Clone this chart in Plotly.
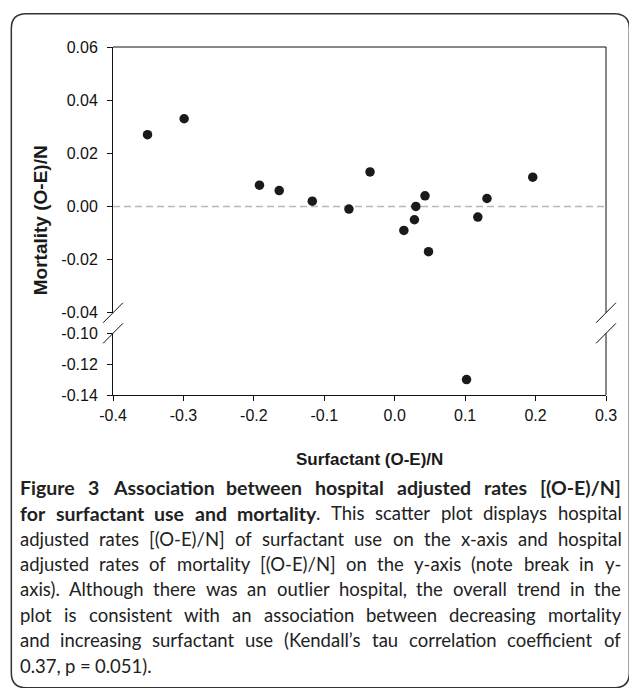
import glob
import struct
import plotly.graph_objects as go

# ---- data ----
surfactant = [-0.351, -0.299, -0.192, -0.164, -0.117, -0.065, -0.035, 0.013,
              0.028, 0.030, 0.043, 0.048, 0.102, 0.118, 0.131, 0.196]
mortality = [0.027, 0.033, 0.008, 0.006, 0.002, -0.001, 0.013, -0.009,
             -0.005, 0.000, 0.004, -0.017, -0.130, -0.004, 0.003, 0.011]

x_ticks = [-0.4, -0.3, -0.2, -0.1, 0.0, 0.1, 0.2, 0.3]
x_ticktext = ["-0.4", "-0.3", "-0.2", "-0.1", "0.0", "0.1", "0.2", "0.3"]
y_upper_ticks = [-0.04, -0.02, 0.00, 0.02, 0.04, 0.06]
y_upper_text = ["-0.04", "-0.02", "0.00", "0.02", "0.04", "0.06"]
y_lower_ticks = [-0.14, -0.12, -0.10]
y_lower_text = ["-0.14", "-0.12", "-0.10"]
x_range = [-0.4, 0.3]
y_upper_range = [-0.04, 0.06]
y_lower_range = [-0.14, -0.10]
reference_y = 0.0

x_title = "<b>Surfactant (O-E)/N</b>"
y_title = "<b>Mortality (O-E)/N</b>"
caption_lines = [
    "<b>Figure 3 Association between hospital adjusted rates [(O-E)/N]</b>",
    "<b>for surfactant use and mortality</b>. This scatter plot displays hospital",
    "adjusted rates [(O-E)/N] of surfactant use on the x-axis and hospital",
    "adjusted rates of mortality [(O-E)/N] on the y-axis (note break in y-",
    "axis). Although there was an outlier hospital, the overall trend in the",
    "plot is consistent with an association between decreasing mortality",
    "and increasing surfactant use (Kendall\u2019s tau correlation coefficient of",
    "0.37, p = 0.051).",
]

# ---- layout geometry (pixels; page body margin removed below) ----
W, H = 629, 688
plot_left, plot_right, plot_top, plot_bottom = 112.5, 609.5, 46.7, 395.0
L = plot_left
R = W - plot_right
T = plot_top
B = H - plot_bottom
PW = W - L - R
PH = H - T - B
upper_bottom = 312.7
lower_top = 333.3
d_lower = (plot_bottom - lower_top) / PH
d_upper = (plot_bottom - upper_bottom) / PH


def px(xs):
    return (xs - L) / PW


def py(ys):
    return (plot_bottom - ys) / PH


up_x = [a for a, b in zip(surfactant, mortality) if b >= y_upper_range[0]]
up_y = [b for b in mortality if b >= y_upper_range[0]]
lo_x = [a for a, b in zip(surfactant, mortality) if b < y_upper_range[0]]
lo_y = [b for b in mortality if b < y_upper_range[0]]

marker = dict(size=9.5, color="#1a1a1a")
fig = go.Figure()
fig.add_trace(go.Scatter(x=[x_range[0], x_range[1]], y=[reference_y, reference_y],
                         mode="lines", yaxis="y2",
                         line=dict(color="#b8b8b8", width=1.5, dash="7px,4px"),
                         hoverinfo="skip", showlegend=False))
fig.add_trace(go.Scatter(x=up_x, y=up_y, mode="markers", yaxis="y2",
                         marker=marker, showlegend=False))
fig.add_trace(go.Scatter(x=lo_x, y=lo_y, mode="markers", yaxis="y",
                         marker=marker, showlegend=False))

tick_font = dict(family="Liberation Sans, Arial, sans-serif", size=16, color="#111")
axis_common = dict(showline=True, linecolor="#111", linewidth=1, ticks="outside",
                   ticklen=5, tickwidth=1, tickcolor="#111", showgrid=False,
                   zeroline=False, tickfont=tick_font)

fig.update_layout(
    width=W, height=H,
    margin=dict(l=L, r=R, t=T, b=B, pad=0),
    paper_bgcolor="white", plot_bgcolor="white",
    xaxis=dict(range=x_range, tickvals=x_ticks, ticktext=x_ticktext,
               anchor="y", ticklabelstandoff=1, **axis_common),
    yaxis=dict(range=y_lower_range, tickvals=y_lower_ticks, ticktext=y_lower_text,
               domain=[0, d_lower], anchor="x", ticklabelstandoff=6, **axis_common),
    yaxis2=dict(range=y_upper_range, tickvals=y_upper_ticks, ticktext=y_upper_text,
                domain=[d_upper, 1], anchor="x", ticklabelstandoff=6, **axis_common),
)

shapes = []
line_style = dict(color="#111", width=1)
shapes.append(dict(type="line", xref="paper", yref="paper", x0=0, x1=1, y0=1, y1=1,
                   line=line_style))
shapes.append(dict(type="line", xref="paper", yref="paper", x0=1, x1=1, y0=d_upper, y1=1,
                   line=line_style))
shapes.append(dict(type="line", xref="paper", yref="paper", x0=1, x1=1, y0=0, y1=d_lower,
                   line=line_style))
sx = 10 / PW
sy = 10 / PH
for xe in (0, 1):
    for ye in (d_lower, d_upper):
        shapes.append(dict(type="line", xref="paper", yref="paper",
                           x0=xe - sx, x1=xe + sx, y0=ye - sy, y1=ye + sy,
                           line=line_style))

# rounded outer border
x0b, x1b, y0b, y1b, rr = 10, 633, 13.3, 688, 15
path = (f"M {px(x0b + rr)},{py(y0b)} L {px(x1b - rr)},{py(y0b)} "
        f"Q {px(x1b)},{py(y0b)} {px(x1b)},{py(y0b + rr)} "
        f"L {px(x1b)},{py(y1b - rr)} Q {px(x1b)},{py(y1b)} {px(x1b - rr)},{py(y1b)} "
        f"L {px(x0b + rr)},{py(y1b)} Q {px(x0b)},{py(y1b)} {px(x0b)},{py(y1b - rr)} "
        f"L {px(x0b)},{py(y0b + rr)} Q {px(x0b)},{py(y0b)} {px(x0b + rr)},{py(y0b)} Z")
shapes.append(dict(type="path", xref="paper", yref="paper", path=path,
                   line=dict(color="#333", width=1.5)))
fig.update_layout(shapes=shapes)


# ---- text width measurement from installed font files (for justified caption) ----
def load_width_fn(patterns, fallback_em):
    path = None
    for pat in patterns:
        hits = glob.glob(pat, recursive=True)
        if hits:
            path = hits[0]
            break
    if path is None:
        return lambda ch, size: fallback_em * size
    try:
        data = open(path, "rb").read()
        ntab = struct.unpack(">H", data[4:6])[0]
        tabs = {}
        for i in range(ntab):
            tag, _, off, ln = struct.unpack(">4sIII", data[12 + 16 * i:28 + 16 * i])
            tabs[tag.decode("latin1")] = off
        upem = struct.unpack(">H", data[tabs["head"] + 18:tabs["head"] + 20])[0]
        nh = struct.unpack(">H", data[tabs["hhea"] + 34:tabs["hhea"] + 36])[0]
        ho = tabs["hmtx"]
        adv = [struct.unpack(">H", data[ho + 4 * i:ho + 4 * i + 2])[0] for i in range(nh)]
        co = tabs["cmap"]
        n = struct.unpack(">H", data[co + 2:co + 4])[0]
        sub = None
        for i in range(n):
            pid, eid, so = struct.unpack(">HHI", data[co + 4 + 8 * i:co + 12 + 8 * i])
            fmt = struct.unpack(">H", data[co + so:co + so + 2])[0]
            if fmt == 4:
                sub = co + so
                break
        segx2 = struct.unpack(">H", data[sub + 6:sub + 8])[0]
        seg = segx2 // 2
        ends = struct.unpack(">%dH" % seg, data[sub + 14:sub + 14 + segx2])
        starts = struct.unpack(">%dH" % seg, data[sub + 16 + segx2:sub + 16 + 2 * segx2])
        deltas = struct.unpack(">%dh" % seg, data[sub + 16 + 2 * segx2:sub + 16 + 3 * segx2])
        rpos = sub + 16 + 3 * segx2
        roffs = struct.unpack(">%dH" % seg, data[rpos:rpos + segx2])

        def gid(c):
            for i in range(seg):
                if starts[i] <= c <= ends[i]:
                    if roffs[i] == 0:
                        return (c + deltas[i]) & 0xFFFF
                    p = rpos + 2 * i + roffs[i] + 2 * (c - starts[i])
                    g = struct.unpack(">H", data[p:p + 2])[0]
                    return (g + deltas[i]) & 0xFFFF if g else 0
            return 0

        def wfn(ch, size):
            g = gid(ord(ch))
            return adv[min(g, nh - 1)] * size / upem
        return wfn
    except Exception:
        return lambda ch, size: fallback_em * size


cap_family = "Lato"
reg_size = 18.5
bold_size = 19.5
w_reg = load_width_fn(["/usr/share/fonts/**/Lato-Regular.ttf", "/usr/**/Lato-Regular.ttf"], 0.5)
w_bold = load_width_fn(["/usr/share/fonts/**/Lato-Bold.ttf", "/usr/**/Lato-Bold.ttf"], 0.53)


def parse_words(s):
    """Return words as lists of (text, bold) runs."""
    words, cur, run, bold, i = [], [], "", False, 0

    def flush_run():
        nonlocal run
        if run:
            cur.append((run, bold))
            run = ""
    while i < len(s):
        if s.startswith("<b>", i):
            flush_run()
            bold, i = True, i + 3
            continue
        if s.startswith("</b>", i):
            flush_run()
            bold, i = False, i + 4
            continue
        ch = s[i]
        if ch == " ":
            flush_run()
            if cur:
                words.append(cur)
                cur = []
        else:
            run += ch
        i += 1
    flush_run()
    if cur:
        words.append(cur)
    return words


def run_width(text, bold):
    if bold:
        return sum(w_bold(c, bold_size) for c in text)
    return sum(w_reg(c, reg_size) for c in text)


annotations = []
title_font = dict(family="Liberation Sans, Arial, sans-serif", color="#1a1a1a")
annotations.append(dict(text=y_title, xref="paper", yref="paper",
                        x=px(39), y=py(220), textangle=-90, showarrow=False,
                        xanchor="center", yanchor="middle",
                        font=dict(size=19, **title_font)))
annotations.append(dict(text=x_title, xref="paper", yref="paper",
                        x=px(371), y=py(460), showarrow=False,
                        xanchor="center", yanchor="middle",
                        font=dict(size=17, **title_font)))

cap_left, cap_right = 17.5, 623.5
line_y0, line_dy = 488, 25.4
pad = 1
for i, t in enumerate(caption_lines):
    words = parse_words(t)
    widths = [sum(run_width(tx, b) for tx, b in w) for w in words]
    justify = i < len(caption_lines) - 1 and len(words) > 1
    if justify:
        gap = (cap_right - cap_left - sum(widths)) / (len(words) - 1)
    else:
        gap = w_reg(" ", reg_size)
    xcur = cap_left
    for w, wd in zip(words, widths):
        xr = xcur
        for tx, b in w:
            annotations.append(dict(text=f"<b>{tx}</b>" if b else tx,
                                    xref="paper", yref="paper",
                                    x=px(xr - pad), y=py(line_y0 + i * line_dy),
                                    showarrow=False, xanchor="left", yanchor="middle",
                                    borderpad=pad,
                                    font=dict(family=cap_family,
                                              size=bold_size if b else reg_size,
                                              color="#222")))
            xr += run_width(tx, b)
        xcur += wd + gap
fig.update_layout(annotations=annotations)

fig.write_html("out.html",
               config={"displayModeBar": False},
               post_script="document.body.style.margin='0px';"
                           "document.documentElement.style.overflow='hidden';")
